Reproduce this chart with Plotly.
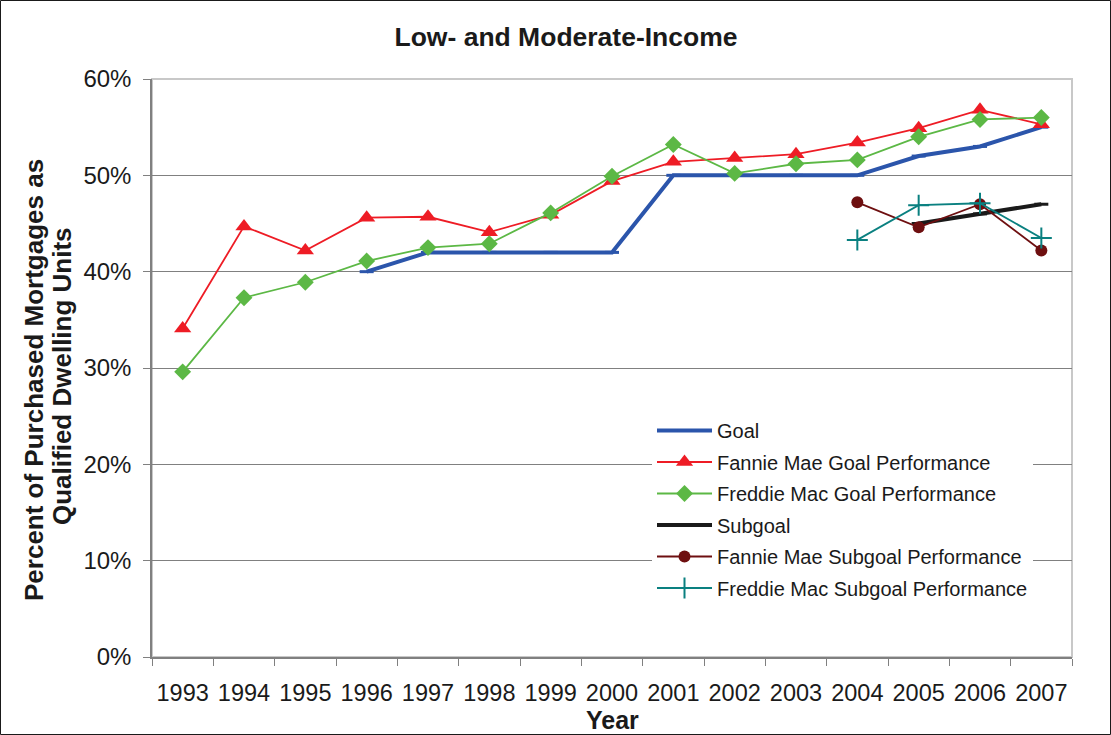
import plotly.graph_objects as go

years = [str(y) for y in range(1993, 2008)]
goal = [None, None, None, 40, 42, 42, 42, 42, 50, 50, 50, 50, 52, 53, 55]
fannie_goal_perf = [34.1, 44.7, 42.2, 45.6, 45.7, 44.1, 45.9, 49.4, 51.4, 51.8, 52.2, 53.4, 54.9, 56.8, 55.3]
freddie_goal_perf = [29.6, 37.3, 38.9, 41.1, 42.5, 42.9, 46.1, 49.9, 53.2, 50.2, 51.2, 51.6, 54.0, 55.8, 56.0]
subgoal = [None] * 12 + [45, 46, 47]
fannie_sub_perf = [None] * 11 + [47.2, 44.6, 47.0, 42.2]
freddie_sub_perf = [None] * 11 + [43.3, 46.9, 47.1, 43.5]

FONT = "Liberation Sans, Arial, sans-serif"
TXT = "#1a1a1a"
fig = go.Figure()

fig.add_trace(go.Scatter(x=years, y=goal, name="Goal", mode="lines+markers", legendgroup="g1",
                         line=dict(color="#2b55ab", width=4),
                         marker=dict(symbol="line-ew", size=10, line=dict(width=3, color="#2b55ab"))))
fig.add_trace(go.Scatter(x=years, y=fannie_goal_perf, name="Fannie Mae Goal Performance", mode="lines+markers",
                         legendgroup="g2", line=dict(color="#ee1c25", width=1.8),
                         marker=dict(symbol="triangle-up", size=15, color="#ee1c25")))
fig.add_trace(go.Scatter(x=years, y=freddie_goal_perf, name="Freddie Mac Goal Performance", mode="lines+markers",
                         legendgroup="g3", line=dict(color="#5cb845", width=1.8),
                         marker=dict(symbol="diamond", size=13, color="#5cb845")))
fig.add_trace(go.Scatter(x=years, y=subgoal, name="Subgoal", mode="lines+markers", legendgroup="g4",
                         line=dict(color="#1a1a1a", width=4),
                         marker=dict(symbol="line-ew", size=10, line=dict(width=3, color="#1a1a1a"))))
fig.add_trace(go.Scatter(x=years, y=fannie_sub_perf, name="Fannie Mae Subgoal Performance", mode="lines+markers",
                         legendgroup="g5", line=dict(color="#6e0f10", width=1.8),
                         marker=dict(symbol="circle", size=12, color="#6e0f10")))
fig.add_trace(go.Scatter(x=years, y=freddie_sub_perf, name="Freddie Mac Subgoal Performance", mode="lines+markers",
                         legendgroup="g6", line=dict(color="#0a8080", width=1.8),
                         marker=dict(symbol="cross-thin", size=15, line=dict(width=2, color="#0a8080"))))

L, R, T, B = 152, 39, 79, 78
W, H = 1111, 735
pw, ph = W - L - R, H - T - B

fig.update_layout(
    width=W, height=H,
    margin=dict(l=L, r=R, t=T, b=B),
    paper_bgcolor="white", plot_bgcolor="white",
    font=dict(family=FONT, color=TXT, size=24),
    title=dict(text="<b>Low- and Moderate-Income</b>", x=566 / W, xanchor="center",
               y=1 - 37 / H, yanchor="middle", font=dict(size=26.5, family=FONT, color=TXT)),
    showlegend=True,
    legend=dict(x=(652 - L) / pw, y=(657 - 411) / ph, xanchor="left", yanchor="top",
                bgcolor="white", borderwidth=0, font=dict(size=20, family=FONT, color=TXT),
                itemwidth=55, tracegroupgap=2.5),
    xaxis=dict(type="category", range=[-0.5, 14.5], tickson="boundaries", ticks="outside",
               ticklen=7, tickcolor="#808080", showline=True, linecolor="#808080", linewidth=1.5,
               showgrid=False, ticklabelstandoff=14, tickangle=0, tickfont=dict(size=23.5)),
    yaxis=dict(range=[0, 60], dtick=10, ticksuffix="%", ticks="outside", ticklen=7, tickcolor="#808080",
               showline=True, linecolor="#808080", linewidth=1.5, showgrid=True, gridcolor="#808080",
               gridwidth=1, zeroline=False, tickfont=dict(size=24), ticklabelstandoff=7),
    annotations=[
        dict(text="<b>Percent of Purchased Mortgages as</b>", xref="paper", yref="paper",
             x=(34 - L) / pw, y=(657 - 380) / ph, textangle=-90, showarrow=False,
             xanchor="center", yanchor="middle", font=dict(size=26, family=FONT, color=TXT)),
        dict(text="<b>Qualified Dwelling Units</b>", xref="paper", yref="paper",
             x=(62 - L) / pw, y=(657 - 376) / ph, textangle=-90, showarrow=False,
             xanchor="center", yanchor="middle", font=dict(size=26, family=FONT, color=TXT)),
        dict(text="<b>Year</b>", xref="paper", yref="paper", x=(612 - L) / pw, y=(657 - 720) / ph,
             showarrow=False, xanchor="center", yanchor="middle", font=dict(size=25, family=FONT, color=TXT)),
    ],
    shapes=[
        dict(type="rect", xref="paper", yref="paper", x0=0, x1=1, y0=0, y1=1,
             line=dict(color="#c8c8c8", width=2), layer="below"),
        dict(type="rect", xref="paper", yref="paper",
             x0=(0.5 - L) / pw, x1=(W - 0.5 - L) / pw, y0=(657 - (H - 0.5)) / ph, y1=(657 - 0.5) / ph,
             line=dict(color="#1a1a1a", width=1)),
    ],
)

fig.write_html("out.html", config={"displayModeBar": False},
               post_script="document.body.style.margin='0';document.body.style.overflow='hidden';")
